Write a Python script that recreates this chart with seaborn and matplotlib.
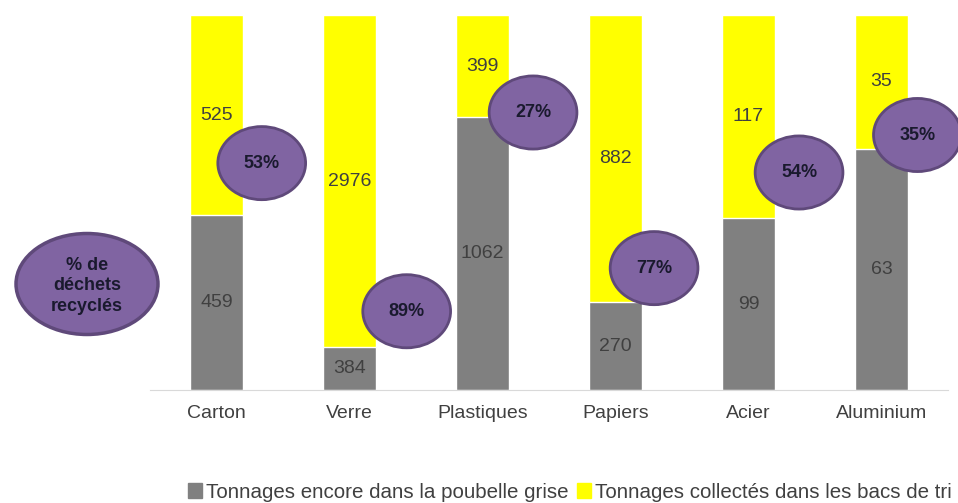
import pandas as pd
import matplotlib.pyplot as plt
import seaborn as sns
from matplotlib.patches import Ellipse, Patch

# data
categories = ["Carton", "Verre", "Plastiques", "Papiers", "Acier", "Aluminium"]
poubelle_grise = [459, 384, 1062, 270, 99, 63]
bacs_de_tri = [525, 2976, 399, 882, 117, 35]
pct_labels = ["53%", "89%", "27%", "77%", "54%", "35%"]

# where the purple bubbles sit (x offset from bar, y in % of bar height)
bubble_dx = [0.34, 0.43, 0.38, 0.29, 0.38, 0.27]
bubble_y = [60.5, 21, 74, 32.5, 58, 68]

df = pd.DataFrame({"cat": categories, "grise": poubelle_grise, "tri": bacs_de_tri})
df["total"] = df["grise"] + df["tri"]
df["pct_grise"] = df["grise"] / df["total"] * 100
df["pct_total"] = 100.0

sns.set_style("white")
plt.rcParams["font.family"] = ["Liberation Sans", "DejaVu Sans"]

fig = plt.figure(figsize=(9.58, 5.03), dpi=100)
ax = fig.add_axes([150 / 958, 1 - 390 / 503, 798 / 958, 375 / 503])

sns.barplot(data=df, x="cat", y="pct_total", color="#FFFF00", width=0.4,
            saturation=1, ax=ax)
sns.barplot(data=df, x="cat", y="pct_grise", color="#808080", width=0.4,
            saturation=1, ax=ax)

ax.set_ylim(0, 100)
ax.set_xlim(-0.5, len(categories) - 0.5)
ax.set_xlabel("")
ax.set_ylabel("")
ax.set_yticks([])
for s in ["left", "right", "top"]:
    ax.spines[s].set_visible(False)
ax.spines["bottom"].set_color("#d9d9d9")
ax.tick_params(axis="x", length=0, pad=11, labelsize=14, labelcolor="#404040")

# value labels
for i, row in df.iterrows():
    ax.text(i, row["pct_grise"] / 2, str(row["grise"]), ha="center", va="center",
            fontsize=14, color="#404040")
    ax.text(i, (row["pct_grise"] + 100) / 2, str(row["tri"]), ha="center",
            va="center", fontsize=14, color="#404040")

# purple bubbles
for i, lab in enumerate(pct_labels):
    e = Ellipse((i + bubble_dx[i], bubble_y[i]), 0.66, 19.5, facecolor="#8064A2",
                edgecolor="#5F497A", lw=2, clip_on=False, zorder=5)
    ax.add_patch(e)
    ax.text(i + bubble_dx[i], bubble_y[i], lab, ha="center", va="center",
            fontsize=13, fontweight="bold", color="#1a1a2e", zorder=6)

# big bubble on the left
big = Ellipse((87 / 958, 1 - 284 / 503), 142 / 958, 101 / 503,
              transform=fig.transFigure, facecolor="#8064A2",
              edgecolor="#5F497A", lw=2.5, zorder=5)
fig.patches.append(big)
fig.text(87 / 958, 1 - 286 / 503, "% de\ndéchets\nrecyclés", ha="center",
         va="center", fontsize=13, fontweight="bold", color="#1a1a2e",
         linespacing=1.3, zorder=6)

handles = [Patch(color="#808080", label="Tonnages encore dans la poubelle grise"),
           Patch(color="#FFFF00", label="Tonnages collectés dans les bacs de tri")]
leg = fig.legend(handles=handles, loc="center", bbox_to_anchor=(570 / 958, 1 - 492 / 503),
                 ncol=2, frameon=False, fontsize=14.8, handlelength=0.7,
                 handleheight=0.7, handletextpad=0.2, columnspacing=0.4)
for t in leg.get_texts():
    t.set_color("#404040")

plt.savefig("out.png", dpi=100)
